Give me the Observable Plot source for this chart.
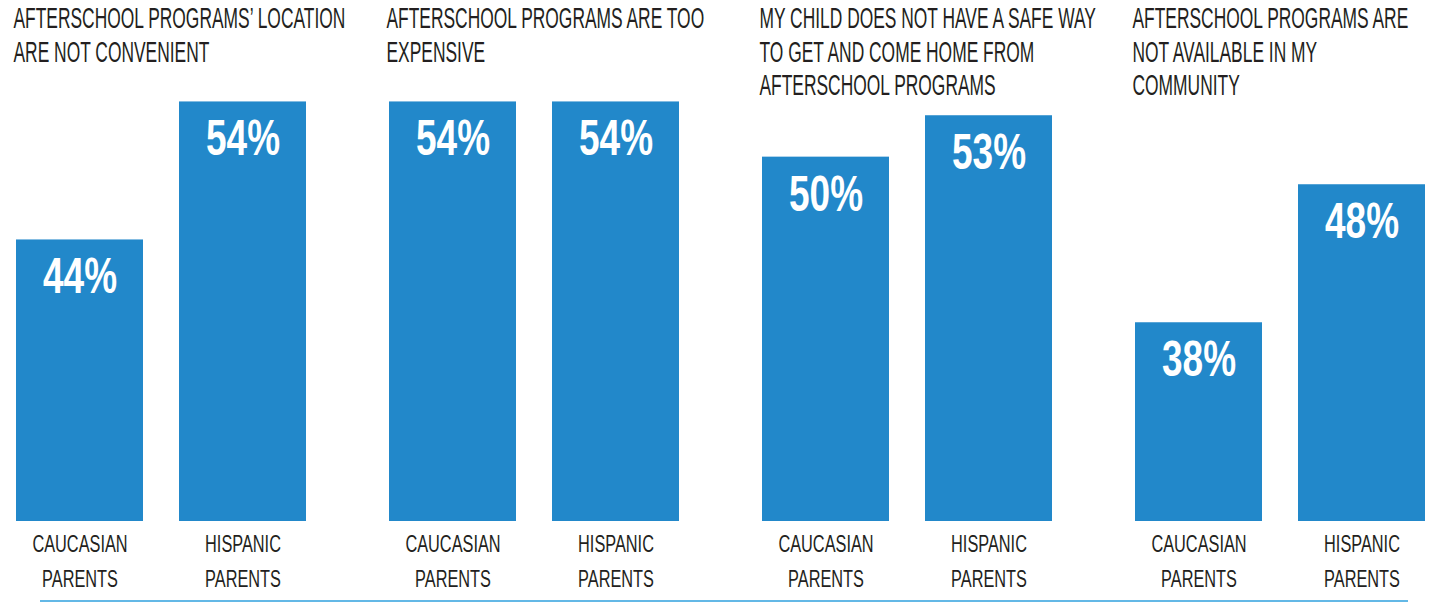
<!DOCTYPE html>
<html>
<head>
<meta charset="utf-8">
<script src="https://cdn.jsdelivr.net/npm/d3@7"></script>
<script src="https://cdn.jsdelivr.net/npm/@observablehq/plot@0.6"></script>
<style>
  html, body { margin: 0; padding: 0; background: #fff; }
  #chart svg { display: block; }
  #rule { margin-left: 40px; width: 1368px; height: 2px; background: #63b8e6; }
</style>
</head>
<body>
<div id="chart"></div>
<div id="rule"></div>
<script>
const questions = [
  "AFTERSCHOOL PROGRAMS’ LOCATION\nARE NOT CONVENIENT",
  "AFTERSCHOOL PROGRAMS ARE TOO\nEXPENSIVE",
  "MY CHILD DOES NOT HAVE A SAFE WAY\nTO GET AND COME HOME FROM\nAFTERSCHOOL PROGRAMS",
  "AFTERSCHOOL PROGRAMS ARE\nNOT AVAILABLE IN MY\nCOMMUNITY"
];
const groups = ["CAUCASIAN PARENTS", "HISPANIC PARENTS"];
const caucasian = [44, 54, 50, 38];
const hispanic = [54, 54, 53, 48];
const groupLabels = ["CAUCASIAN\nPARENTS", "HISPANIC\nPARENTS"];

const rows = [];
questions.forEach((q, i) => {
  rows.push({question: q, group: groups[0], value: caucasian[i]});
  rows.push({question: q, group: groups[1], value: hispanic[i]});
});

const blue = "#2288ca";
const ink = "#231f20";

const chart = Plot.plot({
  width: 1434,
  height: 600,
  marginLeft: 15,
  marginRight: 6,
  marginTop: 0,
  marginBottom: 79,
  style: {fontFamily: "'Liberation Sans', Arial, sans-serif", background: "#fff"},
  fx: {domain: questions, axis: null, paddingInner: 0.219, paddingOuter: 0},
  x: {domain: groups, axis: null, paddingInner: 0.22, paddingOuter: 0},
  y: {domain: [23.6, 61.35], axis: null, clamp: true},
  marks: [
    Plot.barY(rows, {fx: "question", x: "group", y: "value", fill: blue}),
    Plot.text(rows, {
      fx: "question", x: "group", y: "value",
      text: d => `${d.value}%`,
      lineAnchor: "top", dy: 18, fontSize: 50, fontWeight: "bold", fill: "#fff"
    }),
    Plot.text(questions, {
      fx: d => d, text: d => d,
      frameAnchor: "top-left", textAnchor: "start", lineAnchor: "top",
      dx: -3, dy: 3, fontSize: 29, lineHeight: 1.17, fill: ink
    }),
    Plot.axisX({
      tickSize: 0, tickPadding: 6, fontSize: 24, lineHeight: 1.46,
      fill: ink, label: null,
      tickFormat: d => groupLabels[groups.indexOf(d)]
    })
  ]
});

document.getElementById("chart").appendChild(chart);

function condense(selector, s) {
  chart.querySelectorAll(selector).forEach(t => {
    const tr = t.getAttribute("transform") || "";
    t.setAttribute("transform", `${tr} scale(${s},1)`);
  });
}
condense('g[font-size="29"] text', 0.6);
condense('g[font-size="50"] text', 0.74);
condense('g[font-size="24"] text', 0.68);
</script>
</body>
</html>
